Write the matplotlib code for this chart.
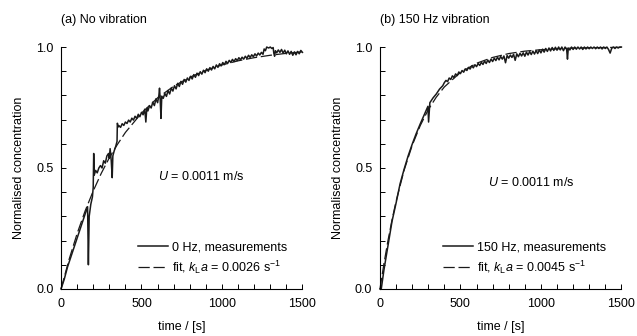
import matplotlib
matplotlib.use("Agg")
import matplotlib.pyplot as plt
from matplotlib.ticker import MultipleLocator, FormatStrFormatter

plt.rcParams['font.family'] = ['Liberation Sans', 'DejaVu Sans']
plt.rcParams['mathtext.fontset'] = 'custom'
plt.rcParams['mathtext.rm'] = 'Liberation Sans'
plt.rcParams['mathtext.it'] = 'Liberation Sans:italic'
plt.rcParams['font.size'] = 9

# (a) no vibration - measured
t_a = [0, 10, 20, 40, 60, 80, 100, 120, 140, 160, 165, 170, 175, 185, 195, 200,
       203, 206, 215, 225, 235, 245, 255, 265, 275, 285, 295, 300, 305, 312, 318,
       322, 330, 340, 348, 350, 356,
       360, 370, 380, 390, 400, 410, 420, 430, 440, 450, 460, 470, 480, 490, 500,
       510, 520, 527, 533, 540, 550, 560, 570, 580, 590, 600, 608, 612, 616, 621,
       626, 635, 645, 655, 665, 675, 685, 695, 705, 715, 725, 735, 745, 755, 765,
       775, 785, 795, 805, 815, 825, 835, 845, 855, 865, 875, 885, 895, 905, 915,
       925, 935, 945, 955, 965, 975, 985, 995, 1005, 1015, 1025, 1035, 1045, 1055,
       1065, 1075, 1085, 1095, 1105, 1115, 1125, 1135, 1145, 1155, 1165, 1175,
       1185, 1195, 1205, 1215, 1225, 1235, 1245, 1255, 1262, 1270, 1278, 1290,
       1300, 1310, 1318, 1322, 1327, 1332, 1340, 1350, 1360, 1370, 1380, 1390,
       1400, 1410, 1420, 1430, 1440, 1450, 1460, 1470, 1480, 1490, 1500]
c_a = [0.0, 0.02, 0.04, 0.09, 0.13, 0.17, 0.21, 0.25, 0.29, 0.33, 0.34, 0.10,
       0.30, 0.35, 0.38, 0.42, 0.56, 0.47, 0.49, 0.48, 0.50, 0.51, 0.50, 0.53,
       0.52, 0.55, 0.56, 0.54, 0.58, 0.53, 0.46, 0.55, 0.57, 0.59, 0.61, 0.685,
       0.67,
       0.675, 0.668, 0.683, 0.676, 0.690, 0.684, 0.698, 0.690, 0.706, 0.698,
       0.714, 0.705, 0.722, 0.712, 0.730, 0.720, 0.743, 0.690, 0.747, 0.736,
       0.758, 0.748, 0.772, 0.758, 0.786, 0.770, 0.800, 0.830, 0.785, 0.705,
       0.797, 0.788, 0.808, 0.796, 0.820, 0.806, 0.830, 0.818, 0.840, 0.827,
       0.850, 0.837, 0.858, 0.846, 0.866, 0.855, 0.872, 0.862, 0.879, 0.868,
       0.886, 0.875, 0.892, 0.882, 0.898, 0.888, 0.904, 0.894, 0.910, 0.900,
       0.915, 0.905, 0.920, 0.910, 0.926, 0.916, 0.931, 0.922, 0.936, 0.927,
       0.941, 0.932, 0.945, 0.936, 0.949, 0.940, 0.952, 0.944, 0.956, 0.947,
       0.958, 0.950, 0.962, 0.953, 0.966, 0.957, 0.968, 0.960, 0.972, 0.963,
       0.975, 0.967, 0.978, 0.970, 0.992, 0.985, 1.000, 0.996, 1.000, 0.994,
       0.998, 0.975, 0.962, 0.985, 0.976, 0.988, 0.978, 0.990, 0.975, 0.987,
       0.972, 0.984, 0.970, 0.982, 0.966, 0.980, 0.968, 0.982, 0.972, 0.986,
       0.978]

# (a) fit, kLa = 0.0026 1/s
tf_a = [0, 50, 100, 150, 200, 250, 300, 350, 400, 500, 600, 700, 800, 900, 1000,
        1100, 1200, 1300, 1400, 1500]
cf_a = [0.0, 0.122, 0.229, 0.323, 0.405, 0.478, 0.542, 0.597, 0.647, 0.727,
        0.790, 0.838, 0.875, 0.904, 0.926, 0.943, 0.956, 0.966, 0.974, 0.980]

# (b) 150 Hz vibration - measured
t_b = [0, 8, 25, 50, 75, 100, 125, 150, 175, 200, 225, 250, 270, 290, 298, 302,
       310, 330, 350, 370, 390,
       400, 410, 420, 430, 440, 450, 460, 470, 480, 490, 500, 510, 520, 530, 540,
       550, 560, 570, 580, 590, 600, 610, 620, 630, 640, 650, 660, 670, 680, 690,
       700, 710, 720, 730, 740, 750, 760, 770, 780, 790, 800, 810, 820, 830, 840,
       850, 860, 870, 880, 890, 900, 910, 920, 930, 940, 950, 960, 970, 980, 990,
       1000, 1010, 1020, 1030, 1040, 1050, 1060, 1070, 1080, 1090, 1100, 1110,
       1120, 1130, 1140, 1150, 1160, 1165, 1170, 1180, 1190, 1200, 1210, 1220,
       1230, 1240, 1250, 1260, 1270, 1280, 1290, 1300, 1310, 1320, 1330, 1340,
       1350, 1360, 1370, 1380, 1390, 1400, 1410, 1420, 1430, 1440, 1450, 1460,
       1470, 1480, 1490, 1500]
c_b = [0.0, 0.0, 0.08, 0.18, 0.28, 0.355, 0.435, 0.495, 0.55, 0.598, 0.642, 0.682,
       0.712, 0.742, 0.755, 0.69, 0.77, 0.79, 0.806, 0.826, 0.840,
       0.853, 0.862, 0.857, 0.872, 0.866, 0.881, 0.874, 0.889, 0.882, 0.897,
       0.890, 0.903, 0.896, 0.910, 0.903, 0.916, 0.909, 0.922, 0.914, 0.927,
       0.919, 0.932, 0.924, 0.937, 0.928, 0.942, 0.932, 0.946, 0.936, 0.950,
       0.940, 0.954, 0.944, 0.958, 0.947, 0.961, 0.950, 0.963, 0.935, 0.965,
       0.954, 0.967, 0.957, 0.970, 0.945, 0.972, 0.960, 0.974, 0.963, 0.976,
       0.962, 0.979, 0.967, 0.981, 0.969, 0.983, 0.971, 0.985, 0.973, 0.988,
       0.976, 0.991, 0.979, 0.994, 0.982, 0.996, 0.984, 0.998, 0.986, 0.999,
       0.987, 1.000, 0.988, 1.000, 0.985, 1.000, 0.990, 0.950, 0.995, 0.988,
       1.000, 0.990, 1.000, 0.991, 1.000, 0.992, 1.000, 0.990, 1.000, 0.992,
       1.000, 0.993, 1.000, 0.994, 1.000, 0.993, 1.000, 0.994, 1.000, 0.992,
       1.000, 0.994, 1.000, 0.990, 0.975, 0.995, 1.000, 0.994, 1.000, 0.996,
       1.000, 1.000]

# (b) fit, kLa = 0.0045 1/s
tf_b = [0, 25, 50, 75, 100, 150, 200, 250, 300, 350, 400, 500, 600, 700, 800,
        900, 1000, 1200, 1500]
cf_b = [0.0, 0.106, 0.201, 0.286, 0.362, 0.491, 0.593, 0.675, 0.741, 0.793,
        0.835, 0.895, 0.933, 0.957, 0.973, 0.983, 0.989, 0.996, 0.999]

panels = [
    ("(a) No vibration", t_a, c_a, tf_a, cf_a, "0 Hz, measurements",
     r"fit, $k_\mathrm{L}a$ = 0.0026 s$^{-1}$", (600, 0.463)),
    ("(b) 150 Hz vibration", t_b, c_b, tf_b, cf_b, "150 Hz, measurements",
     r"fit, $k_\mathrm{L}a$ = 0.0045 s$^{-1}$", (670, 0.442)),
]

fig = plt.figure(figsize=(6.37, 3.36), dpi=100)
lefts = [0.0958, 0.5965]
dark = '#1a1a1a'

for left, (title, t, c, tf, cf, lab_m, lab_f, upos) in zip(lefts, panels):
    ax = fig.add_axes([left, 0.140, 0.379, 0.720])
    ax.plot(t, c, color=dark, lw=1.1, label=lab_m, clip_on=False)
    ax.plot(tf, cf, color=dark, lw=0.9, linestyle=(0, (9, 3)), label=lab_f,
            clip_on=False)
    ax.set_xlim(0, 1500)
    ax.set_ylim(0, 1.0)
    for s in ['top', 'right']:
        ax.spines[s].set_visible(False)
    for s in ['left', 'bottom']:
        ax.spines[s].set_linewidth(0.8)
    ax.xaxis.set_major_locator(MultipleLocator(500))
    ax.xaxis.set_minor_locator(MultipleLocator(100))
    ax.yaxis.set_major_locator(MultipleLocator(0.5))
    ax.yaxis.set_minor_locator(MultipleLocator(0.1))
    ax.yaxis.set_major_formatter(FormatStrFormatter('%.1f'))
    ax.tick_params(which='both', direction='in', length=3.5, width=0.7,
                   labelsize=9)
    ax.tick_params(axis='x', pad=6.5)
    ax.tick_params(axis='y', pad=5.5)
    ax.set_xlabel("time / [s]", labelpad=8)
    ax.set_ylabel("Normalised concentration", labelpad=8)
    ax.text(0.0, 1.11, title, transform=ax.transAxes, ha='left', va='center')
    ax.text(upos[0], upos[1], r"$U$ = 0.0011 m/s", ha='left', va='center')
    ax.legend(loc='lower right', bbox_to_anchor=(0.935, 0.055), frameon=False,
              handlelength=2.4, handletextpad=0.3, labelspacing=0.4,
              borderpad=0, borderaxespad=0)

fig.savefig("out.png", dpi=100)
